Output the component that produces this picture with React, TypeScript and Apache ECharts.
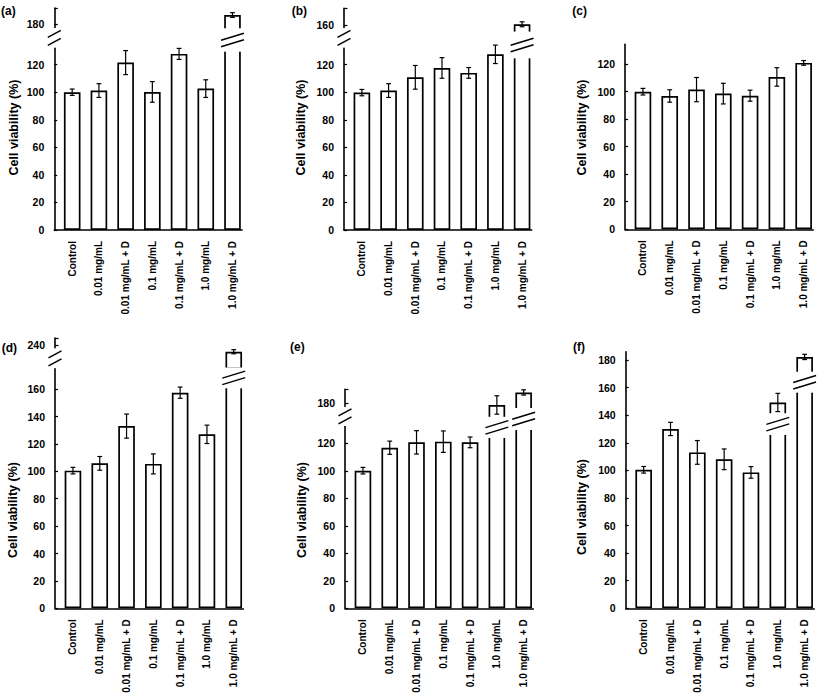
import React, { useEffect, useRef } from "react";
import * as echarts from "echarts";

const categories = [
  "Control",
  "0.01 mg/mL",
  "0.01 mg/mL + D",
  "0.1 mg/mL",
  "0.1 mg/mL + D",
  "1.0 mg/mL",
  "1.0 mg/mL + D",
];

// Panel (a)
const valuesA = [100, 101.2, 121.5, 100.2, 127.8, 102.6, 186.7];
const errorsA = [2.3, 5, 8.7, 7.5, 4, 6.4, 1.7];
// Panel (b)
const valuesB = [99.7, 101.2, 110.8, 117.6, 114, 127.5, 160.5];
const errorsB = [2.3, 5, 8.6, 7.5, 3.9, 6.7, 1.8];
// Panel (c)
const valuesC = [99.9, 96.8, 101.4, 98.5, 97, 110.6, 120.8];
const errorsC = [2.4, 4.5, 8.8, 7.5, 4, 6.7, 1.7];
// Panel (d)
const valuesD = [100.5, 105.8, 133, 105.4, 157.4, 127, 235.1];
const errorsD = [2.4, 5, 8.8, 7.3, 4.1, 6.7, 1.5];
// Panel (e)
const valuesE = [100.1, 116.8, 120.7, 121.2, 120.7, 178.8, 187.9];
const errorsE = [2.4, 4.8, 8.5, 7.8, 3.9, 6.7, 1.9];
// Panel (f)
const valuesF = [100.4, 130, 113, 108, 98.5, 149.2, 182.2];
const errorsF = [2.4, 4.8, 8.6, 7.5, 4.2, 6.6, 1.9];

// tick labels
const ticks0to120 = [0, 20, 40, 60, 80, 100, 120];
const ticks0to160 = [0, 20, 40, 60, 80, 100, 120, 140, 160];
const ticks0to180 = [0, 20, 40, 60, 80, 100, 120, 140, 160, 180];
const upperTicksA = [180];
const upperTicksB = [160];
const upperTicksD = [240];
const upperTicksE = [180];

// axis breaks [low, high] in lower-axis units; bar breaks [category, low, high]
const axisBreakA = [132.3, 146.6];
const barBreaksA = [[6, 129.4, 146.4]];
const axisBreakB = [132.3, 146.6];
const barBreaksB = [[6, 124.6, 144]];
const axisBreakD = [175.2, 189.8];
const barBreaksD = [[6, 160.6, 175.8]];
const axisBreakE = [132.6, 146.5];
const barBreaksE = [
  [5, 123.9, 139.3],
  [6, 129.7, 145.7],
];
const barBreaksF = [
  [5, 125.6, 141.4],
  [6, 156.3, 171.5],
];

const panelLabels = ["(a)", "(b)", "(c)", "(d)", "(e)", "(f)"];
const yTitle = "Cell viability (%)";

const FONT = '"Liberation Sans", Arial, Helvetica, sans-serif';
const X_MIN = -0.67;
const X_MAX = 6.36;
const BAR_W = 16.6;
const BAR_BORDER = 1.7;
const AXIS_W = 1.6;

type Panel = {
  values: number[];
  errors: number[];
  lowerTicks: number[];
  lowerMax: number;
  upperTicks?: number[];
  upperMin?: number;
  upperMax?: number;
  axisBreak?: number[];
  barBreaks: number[][];
  layout: {
    axisX: number;
    width: number;
    upperTop?: number;
    lowerTop: number;
    zeroY: number;
    labelX: number;
    labelY: number;
    titleX: number;
    titleY: number;
  };
};

const panels: Panel[] = [
  {
    values: valuesA, errors: errorsA, lowerTicks: ticks0to120, lowerMax: 132.3,
    upperTicks: upperTicksA, upperMin: 163, upperMax: 191.8,
    axisBreak: axisBreakA, barBreaks: barBreaksA,
    layout: { axisX: 54.3, width: 187.8, upperTop: 8, lowerTop: 47.7, zeroY: 230, labelX: 1, labelY: 11, titleX: 14.2, titleY: 127.5 },
  },
  {
    values: valuesB, errors: errorsB, lowerTicks: ticks0to120, lowerMax: 132.3,
    upperTicks: upperTicksB, upperMin: 143.5, upperMax: 172.1,
    axisBreak: axisBreakB, barBreaks: barBreaksB,
    layout: { axisX: 344, width: 187.7, upperTop: 8.3, lowerTop: 47.7, zeroY: 230, labelX: 291.7, labelY: 11, titleX: 301.3, titleY: 127.5 },
  },
  {
    values: valuesC, errors: errorsC, lowerTicks: ticks0to120, lowerMax: 134.3,
    barBreaks: [],
    layout: { axisX: 625, width: 188.3, lowerTop: 44.3, zeroY: 229.3, labelX: 572.3, labelY: 10.5, titleX: 581.7, titleY: 127.5 },
  },
  {
    values: valuesD, errors: errorsD, lowerTicks: ticks0to160, lowerMax: 175.2,
    upperTicks: upperTicksD, upperMin: 223, upperMax: 245.1,
    axisBreak: axisBreakD, barBreaks: barBreaksD,
    layout: { axisX: 55, width: 188.4, upperTop: 338, lowerTop: 368.3, zeroY: 608.3, labelX: 1.7, labelY: 347.5, titleX: 13.3, titleY: 510 },
  },
  {
    values: valuesE, errors: errorsE, lowerTicks: ticks0to120, lowerMax: 132.6,
    upperTicks: upperTicksE, upperMin: 163.5, upperMax: 190.2,
    axisBreak: axisBreakE, barBreaks: barBreaksE,
    layout: { axisX: 345, width: 188.3, upperTop: 389.3, lowerTop: 426, zeroY: 608.3, labelX: 290, labelY: 347, titleX: 301.7, titleY: 510 },
  },
  {
    values: valuesF, errors: errorsF, lowerTicks: ticks0to180, lowerMax: 186,
    barBreaks: barBreaksF,
    layout: { axisX: 625.7, width: 188.6, lowerTop: 351.7, zeroY: 608.3, labelX: 573, labelY: 347, titleX: 581.7, titleY: 507 },
  },
];

const black = "#000";

const renderErr = (_params: any, api: any) => {
  const x = api.value(0);
  const p1 = api.coord([x, api.value(2)]);
  const p2 = api.coord([x, api.value(1)]);
  const cw = 2.4;
  const st = { stroke: black, lineWidth: 1.2 };
  return {
    type: "group",
    children: [
      { type: "line", shape: { x1: p1[0], y1: p1[1], x2: p2[0], y2: p2[1] }, style: st },
      { type: "line", shape: { x1: p1[0] - cw, y1: p1[1], x2: p1[0] + cw, y2: p1[1] }, style: st },
      { type: "line", shape: { x1: p2[0] - cw, y1: p2[1], x2: p2[0] + cw, y2: p2[1] }, style: st },
    ],
  };
};

const renderBreak = (_params: any, api: any) => {
  const x = api.value(0);
  const kind = api.value(3);
  const pLo = api.coord([x, api.value(1)]);
  const pHi = api.coord([x, api.value(2)]);
  const cx = pLo[0];
  const yTop = pHi[1];
  const yBot = pLo[1];
  const isBar = kind === 1;
  const half = isBar ? BAR_W / 2 + BAR_BORDER / 2 : 0;
  const ext = isBar ? 2.3 : 6.5;
  const maskHalf = isBar ? half + 1 : 3;
  const mid = (yTop + yBot) / 2;
  const sep = isBar ? 6.5 : 8;
  const rise = 7;
  const st = { stroke: black, lineWidth: 1.5 };
  return {
    type: "group",
    children: [
      {
        type: "rect",
        shape: { x: cx - maskHalf, y: yTop, width: maskHalf * 2, height: yBot - yTop },
        style: { fill: "#fff", stroke: null },
      },
      {
        type: "line",
        shape: { x1: cx - half - ext, y1: mid - sep / 2 + rise / 2, x2: cx + half + ext, y2: mid - sep / 2 - rise / 2 },
        style: st,
      },
      {
        type: "line",
        shape: { x1: cx - half - ext, y1: mid + sep / 2 + rise / 2, x2: cx + half + ext, y2: mid + sep / 2 - rise / 2 },
        style: st,
      },
    ],
  };
};

const yLabelStyle = { color: black, fontFamily: FONT, fontWeight: "bold" as const, fontSize: 10.5 };
const xLabelStyle = { color: black, fontFamily: FONT, fontWeight: "bold" as const, fontSize: 10 };

function buildOption() {
  const grids: any[] = [];
  const xAxes: any[] = [];
  const yAxes: any[] = [];
  const series: any[] = [];
  const graphics: any[] = [];
  const catIdx = categories.map((_, i) => i);

  panels.forEach((p, pi) => {
    const L = p.layout;
    const lo = grids.length;
    grids.push({ left: L.axisX, top: L.lowerTop, width: L.width, height: L.zeroY - L.lowerTop });
    xAxes.push({
      gridIndex: lo,
      type: "value",
      min: X_MIN,
      max: X_MAX,
      axisLine: { show: true, onZero: false, lineStyle: { color: black, width: AXIS_W } },
      axisTick: { show: false },
      splitLine: { show: false },
      axisLabel: {
        ...xLabelStyle,
        customValues: catIdx,
        formatter: (v: number) => categories[Math.round(v)] ?? "",
        rotate: 90,
        margin: 11,
      },
    });
    yAxes.push({
      gridIndex: lo,
      type: "value",
      min: 0,
      max: p.lowerMax,
      axisLine: { show: true, onZero: false, lineStyle: { color: black, width: AXIS_W } },
      axisTick: { show: true, inside: true, length: 3, customValues: p.lowerTicks, lineStyle: { color: black, width: 1.2 } },
      axisLabel: { ...yLabelStyle, customValues: p.lowerTicks, margin: 10 },
      splitLine: { show: false },
    });

    const lowerData = p.values.map((v, i) => [i, v]);
    series.push({
      type: "bar",
      xAxisIndex: lo,
      yAxisIndex: lo,
      data: lowerData,
      barWidth: BAR_W,
      clip: true,
      silent: true,
      itemStyle: { color: "#fff", borderColor: black, borderWidth: BAR_BORDER },
    });
    series.push({
      type: "custom",
      xAxisIndex: lo,
      yAxisIndex: lo,
      renderItem: renderErr,
      encode: { x: 0, y: [1, 2] },
      z: 4,
      silent: true,
      data: p.values
        .map((v, i) => [i, v - p.errors[i], v + p.errors[i], v])
        .filter((d) => d[3] <= p.lowerMax),
    });

    if (p.upperTicks) {
      const up = grids.length;
      grids.push({ left: L.axisX, top: L.upperTop, width: L.width, height: L.lowerTop - (L.upperTop as number) });
      xAxes.push({ gridIndex: up, type: "value", min: X_MIN, max: X_MAX, show: false });
      yAxes.push({
        gridIndex: up,
        type: "value",
        min: p.upperMin,
        max: p.upperMax,
        axisLine: { show: true, onZero: false, lineStyle: { color: black, width: AXIS_W } },
        axisTick: {
          show: true,
          inside: true,
          length: 3.5,
          customValues: [...p.upperTicks, p.upperMax],
          lineStyle: { color: black, width: 1.2 },
        },
        axisLabel: { ...yLabelStyle, customValues: p.upperTicks, margin: 10 },
        splitLine: { show: false },
      });
      series.push({
        type: "bar",
        xAxisIndex: up,
        yAxisIndex: up,
        data: lowerData.filter((d) => d[1] > p.lowerMax),
        barWidth: BAR_W,
        clip: true,
        silent: true,
        itemStyle: { color: "#fff", borderColor: black, borderWidth: BAR_BORDER },
      });
      series.push({
        type: "custom",
        xAxisIndex: up,
        yAxisIndex: up,
        renderItem: renderErr,
        encode: { x: 0, y: [1, 2] },
        z: 4,
        silent: true,
        data: p.values
          .map((v, i) => [i, v - p.errors[i], v + p.errors[i], v])
          .filter((d) => d[3] > p.lowerMax),
      });
    }

    const breakData: number[][] = [];
    if (p.axisBreak) breakData.push([X_MIN, p.axisBreak[0], p.axisBreak[1], 0]);
    p.barBreaks.forEach((b) => breakData.push([b[0], b[1], b[2], 1]));
    if (breakData.length) {
      series.push({
        type: "custom",
        xAxisIndex: lo,
        yAxisIndex: lo,
        renderItem: renderBreak,
        encode: { x: 0, y: [1, 2] },
        clip: false,
        z: 10,
        silent: true,
        data: breakData,
      });
    }

    graphics.push({
      type: "text",
      x: L.labelX,
      y: L.labelY,
      style: {
        text: panelLabels[pi],
        fill: black,
        fontFamily: FONT,
        fontWeight: "bold",
        fontSize: 12,
        align: "left",
        verticalAlign: "middle",
      },
    });
    graphics.push({
      type: "text",
      x: L.titleX,
      y: L.titleY,
      rotation: Math.PI / 2,
      style: {
        text: yTitle,
        fill: black,
        fontFamily: FONT,
        fontWeight: "bold",
        fontSize: 12.5,
        align: "center",
        verticalAlign: "middle",
      },
    });
  });

  return {
    animation: false,
    backgroundColor: "#fff",
    grid: grids,
    xAxis: xAxes,
    yAxis: yAxes,
    series,
    graphic: graphics,
  };
}

export default function App() {
  const ref = useRef<HTMLDivElement>(null);
  useEffect(() => {
    if (!ref.current) return;
    const chart = echarts.init(ref.current, undefined, { renderer: "svg" });
    chart.setOption(buildOption() as any);
    return () => chart.dispose();
  }, []);
  return (
    <div
      ref={ref}
      style={{ position: "absolute", left: 0, top: 0, width: 817, height: 699, background: "#fff" }}
    />
  );
}
